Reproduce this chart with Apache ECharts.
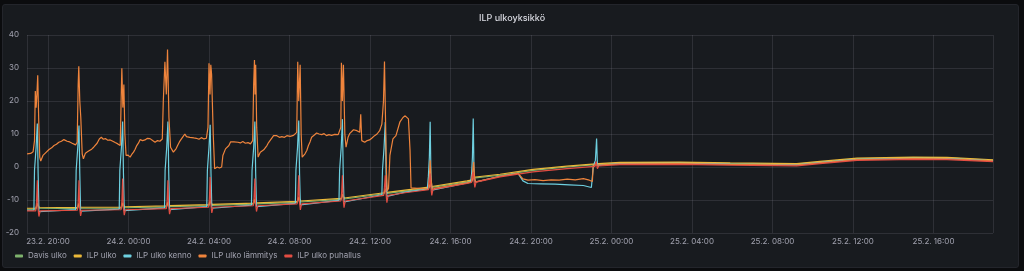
<!DOCTYPE html>
<html>
<head>
<meta charset="utf-8">
<script src="https://cdn.jsdelivr.net/npm/echarts@6/dist/echarts.min.js"></script>
<style>
html,body{margin:0;padding:0;background:#0b0c0e;width:1024px;height:271px;overflow:hidden;}
#panel{position:absolute;left:2px;top:4px;width:1015px;height:262px;background:#181b1f;border:1px solid #23252b;border-radius:3px;}
#chart{position:absolute;left:0;top:0;width:1024px;height:271px;}
</style>
</head>
<body>
<div id="panel"></div>
<div id="chart"></div>
<script>
// time = hours since 23.2. 00:00
const title = 'ILP ulkoyksikkö';
const seriesNames = ['Davis ulko', 'ILP ulko', 'ILP ulko kenno', 'ILP ulko lämmitys', 'ILP ulko puhallus'];
const seriesColors = ['#7EB26D', '#EAB839', '#6ED0E0', '#EF843C', '#E24D42'];
const yTicks = [-20, -10, 0, 10, 20, 30, 40];
const xStartHour = 18.957;
const xEndHour = 66.957;

const davisUlko = [[18.96,-12.8],[19.4,-12.75],[19.47,-11.3],[19.56,-12.5],[21.47,-12.6],[21.54,-11.2],[21.63,-12.5],[23.65,-12.45],[23.71,-11.1],[23.8,-12.35],[25.9,-12.1],[25.96,-10.8],[26.05,-12.0],[28.0,-11.7],[28.06,-10.4],[28.15,-11.6],[30.22,-11.25],[30.28,-10],[30.37,-11.15],[32.4,-10.7],[32.46,-9.4],[32.55,-10.6],[34.57,-9.8],[34.63,-8.5],[34.72,-9.7],[36.7,-8.1],[36.76,-6.9],[36.85,-8.0],[37.74,-7.3],[38.93,-6.4],[38.99,-5.5],[39.07,-6.2],[40.82,-4.5],[41.08,-4.2],[41.13,-3.4],[41.21,-4.0],[42.46,-2.5],[44.1,-1.0],[45.79,0],[47.2,0.7],[47.27,1.3],[47.35,0.8],[48.42,1.2],[51.4,1.3],[53.9,1.05],[57.2,0.85],[58.36,1.5],[60.2,2.5],[63.0,2.85],[64.67,2.75],[66.96,2.05]];

const ilpUlko = [[18.96,-12.5],[19.4,-12.45],[19.47,-11.0],[19.56,-12.2],[21.47,-12.3],[21.54,-11.0],[21.63,-12.2],[23.65,-12.15],[23.71,-10.8],[23.8,-12.05],[25.9,-11.8],[25.96,-10.5],[26.05,-11.7],[28.0,-11.4],[28.06,-10.1],[28.15,-11.3],[30.22,-10.95],[30.28,-9.7],[30.37,-10.85],[32.4,-10.4],[32.46,-9.1],[32.55,-10.3],[34.57,-9.5],[34.63,-8.2],[34.72,-9.4],[36.7,-7.8],[36.76,-6.6],[36.85,-7.7],[37.74,-7.0],[38.93,-6.1],[38.99,-5.2],[39.07,-5.9],[40.82,-4.2],[41.08,-3.9],[41.13,-3.1],[41.21,-3.7],[42.46,-2.2],[44.1,-0.7],[45.79,0.25],[47.2,0.95],[47.27,1.5],[47.35,1.05],[48.42,1.4],[51.4,1.5],[53.9,1.25],[57.2,1.05],[58.36,1.7],[60.2,2.7],[63.0,3.0],[64.67,2.9],[66.96,2.2]];

const ilpUlkoKenno = [[18.96,-13.1],[19.3,-13.05],[19.33,-1],[19.41,6],[19.47,13.2],[19.51,-2],[19.55,-13.5],[19.62,-13.05],
[21.37,-12.9],[21.4,-1],[21.48,6],[21.54,12.6],[21.58,-2],[21.62,-13.4],[21.69,-12.9],
[23.54,-12.75],[23.57,-1],[23.65,6],[23.71,13.8],[23.75,-2],[23.79,-13.2],[23.86,-12.75],
[25.79,-12.4],[25.82,-1],[25.9,6],[25.96,13.8],[26.0,-2],[26.04,-12.9],[26.11,-12.4],
[27.89,-12],[27.92,-1],[28.0,6],[28.06,12.8],[28.1,-2],[28.14,-12.5],[28.21,-12],
[30.11,-11.55],[30.14,-1],[30.22,6],[30.28,13.8],[30.32,-2],[30.36,-12],[30.43,-11.55],
[32.29,-11],[32.32,-1],[32.4,6],[32.46,14.1],[32.5,-2],[32.54,-11.5],[32.61,-11],
[34.46,-10.1],[34.49,-1],[34.57,6],[34.63,14.5],[34.67,-2],[34.71,-10.6],[34.78,-10.1],
[36.59,-8.4],[36.62,-1],[36.7,6],[36.76,13.6],[36.8,-2],[36.84,-8.9],[36.91,-8.4],
[37.74,-7.6],
[38.85,-6.7],[38.9,-3],[38.95,3],[38.99,13.7],[39.03,-3],[39.08,-7.0],[39.15,-6.6],
[40.82,-4.8],
[41.0,-4.5],[41.05,-2],[41.09,3],[41.13,14.7],[41.17,-2],[41.22,-4.6],[41.3,-4.3],
[42.46,-2.8],[43.35,-1.9],[43.6,-4.2],[43.85,-5.0],[44.5,-5.1],[45.2,-5.2],[45.9,-5.4],[46.6,-5.6],[47.0,-6.2],[47.07,-6.4],[47.1,0.4],[47.2,2],[47.26,8.6],[47.3,0.5],[47.36,0.6],[48.42,1.0],[51.4,1.1],[53.9,0.85],[57.2,0.65],[58.36,1.3],[60.2,2.3],[63.0,2.6],[64.67,2.55],[66.96,1.9]];

const ilpUlkoLammitys = [[18.96,4.0],[19.05,4.3],[19.14,4.1],[19.26,4.6],[19.33,8],[19.37,23],[19.41,18],[19.45,22],[19.49,27.8],[19.54,14],[19.59,3],[19.64,1.8],[19.75,3.5],[19.88,4.3],[20.05,5.3],[20.18,5.8],[20.30,6.5],[20.42,6.9],[20.54,7.5],[20.67,7.8],[20.79,8.3],[20.95,7.8],[21.08,7.6],[21.20,7.2],[21.37,6.7],[21.45,7.5],[21.50,25],[21.53,30.5],[21.58,20],[21.63,15],[21.70,4],[21.76,2.5],[21.86,4.2],[21.96,4.6],[22.06,5],[22.17,5.4],[22.27,6],[22.44,7.2],[22.55,8.5],[22.65,9],[22.75,8.4],[22.85,8.6],[22.97,8.1],[23.09,8.2],[23.22,7.8],[23.34,7.4],[23.47,7.0],[23.59,6.5],[23.64,22],[23.67,29.9],[23.72,18],[23.77,25],[23.82,10],[23.88,3.5],[23.98,3.6],[24.08,3],[24.16,3.8],[24.25,4.5],[24.33,5.4],[24.41,6.5],[24.50,7.3],[24.58,8.3],[24.70,8.0],[24.82,8.2],[24.94,8.7],[25.07,8.6],[25.20,8.0],[25.32,7.5],[25.44,8.0],[25.56,7.8],[25.68,8.5],[25.73,20],[25.81,31.9],[25.88,22],[25.94,35.6],[26.01,15],[26.09,6],[26.17,5.8],[26.23,4.5],[26.30,5],[26.37,5.6],[26.44,6.5],[26.53,7.6],[26.63,8.5],[26.72,9.3],[26.80,10],[26.88,9.2],[26.96,8.8],[27.05,9.0],[27.13,8.5],[27.25,8.8],[27.37,8.7],[27.50,8.4],[27.62,8.9],[27.75,8.5],[27.87,8.7],[27.95,12],[28.00,31.4],[28.05,22],[28.09,31],[28.13,28],[28.21,10],[28.28,-0.5],[28.41,0],[28.52,-0.3],[28.63,0],[28.69,3.5],[28.82,5.5],[28.90,6],[28.99,6.5],[29.07,7.6],[29.15,8],[29.24,7.6],[29.32,8],[29.44,7.5],[29.56,7.3],[29.68,7.7],[29.81,7.2],[29.94,7.4],[30.06,7.0],[30.17,8],[30.22,25],[30.26,32.4],[30.29,22],[30.32,31],[30.37,12],[30.44,3],[30.55,4.5],[30.63,4.8],[30.72,5.2],[30.80,5.7],[30.88,6.5],[30.96,7.4],[31.05,8],[31.13,8.8],[31.21,9.5],[31.29,9.1],[31.37,9.5],[31.50,9.0],[31.62,9.2],[31.75,9.0],[31.87,9.5],[32.03,9.3],[32.20,9.6],[32.36,10.5],[32.41,31.9],[32.46,20],[32.53,31],[32.58,10],[32.63,3],[32.70,3.6],[32.77,4],[32.86,5],[32.94,6.5],[33.02,7.6],[33.10,9],[33.22,9.6],[33.35,10.3],[33.47,10.0],[33.60,9.8],[33.72,10.1],[33.84,9.5],[33.96,9.8],[34.09,9.6],[34.25,9.9],[34.42,9.8],[34.55,12],[34.58,31.6],[34.63,20],[34.68,31],[34.75,10],[34.81,6],[34.91,9],[35.00,10.2],[35.08,10.8],[35.18,11.3],[35.27,11.6],[35.35,11.0],[35.41,11.2],[35.49,10.5],[35.54,16],[35.59,8],[35.66,7.8],[35.74,7.5],[35.86,8.0],[35.98,8.2],[36.10,8.8],[36.23,9.5],[36.35,10.0],[36.48,11],[36.59,13],[36.67,20],[36.72,32],[36.77,15],[36.82,-2],[36.86,-7.2],[36.92,-6.5],[36.99,3.5],[37.14,8.5],[37.29,9.5],[37.49,13.7],[37.64,15],[37.75,15.5],[37.84,15.3],[37.91,14.6],[37.99,5],[38.04,-6.3],[38.9,-6.7],[38.95,-3],[38.99,2],[39.04,-4],[39.1,-6.8],[39.2,-6.5],[40.82,-4.8],[41.05,-4.5],[41.11,-1],[41.15,1.5],[41.2,-3.5],[41.26,-4.5],[42.46,-2.8],[43.35,-1.9],[43.6,-3.6],[43.85,-4.0],[44.2,-3.8],[44.6,-4.1],[45.0,-3.9],[45.4,-4.0],[45.8,-3.7],[46.2,-3.9],[46.6,-3.5],[46.9,-4.0],[47.05,-4.4],[47.09,0.5],[47.2,0.7],[47.28,1.0],[47.36,0.6],[48.42,0.95],[51.4,1.05],[53.9,0.8],[57.2,0.6],[58.36,1.25],[60.2,2.25],[63.0,2.55],[64.67,2.5],[66.96,1.85]];

const ilpUlkoPuhallus = [[18.96,-13.3],[19.39,-13.3],[19.43,-10.8],[19.47,-4],[19.5,-12.3],[19.55,-15.0],[19.61,-13.3],
[21.46,-13.1],[21.5,-10.6],[21.54,-4],[21.57,-12.1],[21.62,-14.8],[21.68,-13.1],
[23.63,-12.95],[23.67,-10.5],[23.71,-3.5],[23.74,-12],[23.79,-14.6],[23.85,-12.95],
[25.88,-12.6],[25.92,-10.1],[25.96,-4],[25.99,-11.6],[26.04,-14.3],[26.1,-12.6],
[27.98,-12.2],[28.02,-9.7],[28.06,-3],[28.09,-11.2],[28.14,-13.9],[28.2,-12.2],
[30.2,-11.75],[30.24,-9.2],[30.28,-3.5],[30.31,-10.8],[30.36,-13.5],[30.42,-11.75],
[32.38,-11.2],[32.42,-8.7],[32.46,-2.5],[32.49,-10.2],[32.54,-13.0],[32.6,-11.2],
[34.55,-10.3],[34.59,-7.8],[34.63,-2.5],[34.66,-9.3],[34.71,-12.3],[34.77,-10.3],
[36.68,-8.6],[36.72,-6.1],[36.76,-2.5],[36.79,-7.6],[36.84,-10.8],[36.9,-8.6],
[37.74,-7.8],
[38.91,-6.9],[38.95,-4.4],[38.99,-2],[39.02,-5.9],[39.07,-8.6],[39.13,-6.8],
[40.82,-5.0],
[41.05,-4.7],[41.09,-2.2],[41.13,-1.5],[41.16,-3.7],[41.21,-6.2],[41.27,-4.6],
[42.46,-3.0],[44.1,-1.5],[45.79,-0.5],[47.18,0.2],[47.24,1.6],[47.3,-0.5],[47.36,0.3],[48.42,0.7],[51.4,0.8],[53.9,0.55],[57.2,0.35],[58.36,1.0],[60.2,2.0],[63.0,2.3],[64.67,2.25],[66.96,1.6]];

const allSeries = [davisUlko, ilpUlko, ilpUlkoKenno, ilpUlkoLammitys, ilpUlkoPuhallus];

const BASE = Date.UTC(2021, 1, 23, 0, 0, 0);
const H = 3600 * 1000;
const toTs = h => BASE + h * H;
const pad = n => (n < 10 ? '0' : '') + n;

const chart = echarts.init(document.getElementById('chart'), null, {renderer: 'canvas'});
const textColor = 'rgba(204,204,220,0.75)';
const font = 'Inter, "Noto Sans", sans-serif';

chart.setOption({
  useUTC: true,
  backgroundColor: 'transparent',
  animation: false,
  title: {
    text: title, left: 'center', top: 9,
    textStyle: {color: '#d8d9e0', fontSize: 9, fontWeight: 500, fontFamily: font}
  },
  legend: {
    left: 15, top: 252, padding: 0, itemGap: 7, itemWidth: 8, itemHeight: 3,
    icon: 'roundRect',
    data: seriesNames,
    textStyle: {color: textColor, fontSize: 8, fontFamily: font, padding: [0,0,0,0]}
  },
  grid: {left: 27, right: 31, top: 35, bottom: 38, containLabel: false},
  xAxis: {
    type: 'time',
    min: toTs(xStartHour), max: toTs(xEndHour),
    minInterval: 4 * H, maxInterval: 4 * H,
    axisLine: {show: false}, axisTick: {show: false},
    splitLine: {show: true, lineStyle: {color: 'rgba(204,204,220,0.12)', width: 1}},
    axisLabel: {
      color: textColor, fontSize: 8, fontFamily: font, margin: 5, hideOverlap: false,
      formatter: function (v) {
        const d = new Date(v);
        return d.getUTCDate() + '.' + (d.getUTCMonth() + 1) + '. ' + pad(d.getUTCHours()) + ':' + pad(d.getUTCMinutes());
      }
    }
  },
  yAxis: {
    type: 'value', min: yTicks[0], max: yTicks[yTicks.length - 1], interval: 10,
    axisLine: {show: false}, axisTick: {show: false},
    splitLine: {lineStyle: {color: 'rgba(204,204,220,0.12)', width: 1}},
    axisLabel: {color: textColor, fontSize: 8, fontFamily: font, margin: 8}
  },
  series: allSeries.map((arr, i) => ({
    name: seriesNames[i], type: 'line', showSymbol: false, symbol: 'none',
    color: seriesColors[i],
    lineStyle: {width: 1.2, color: seriesColors[i]},
    data: arr.map(p => [toTs(p[0]), p[1]])
  }))
});
</script>
</body>
</html>
